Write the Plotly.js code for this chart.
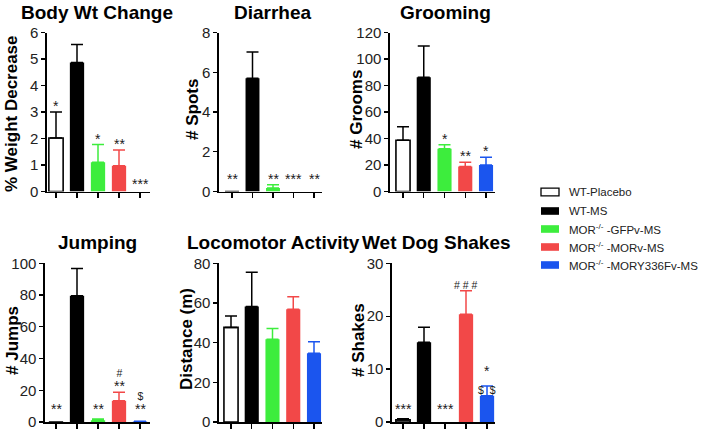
<!DOCTYPE html>
<html>
<head>
<meta charset="utf-8">
<script src="https://cdn.plot.ly/plotly-3.0.1.min.js"></script>
<style>html,body{margin:0;padding:0;background:#fff;}#chart{width:709px;height:430px;}</style>
</head>
<body>
<div id="chart"></div>
<script>
// ---------- DATA ----------
const groups = ["WT-Placebo", "WT-MS", "MOR<sup>-/-</sup> -GFPv-MS", "MOR<sup>-/-</sup> -MORv-MS", "MOR<sup>-/-</sup> -MORY336Fv-MS"];

const panelTitles = ["Body Wt Change", "Diarrhea", "Grooming", "Jumping", "Locomotor Activity", "Wet Dog Shakes"];
const yTitles = ["% Weight Decrease", "# Spots", "# Grooms", "# Jumps", "Distance (m)", "# Shakes"];
const yMax = [6, 8, 120, 100, 80, 30];
const yDtick = [1, 2, 20, 20, 20, 10];

const bodyWtMean = [2.02, 4.87, 1.10, 0.97, 0];
const bodyWtSem  = [0.98, 0.68, 0.67, 0.60, 0];
const bodyWtSig  = ["*", "", "*", "**", "***"];

const diarrheaMean = [0, 5.70, 0.17, 0, 0];
const diarrheaSem  = [0, 1.32, 0.17, 0, 0];
const diarrheaSig  = ["**", "", "**", "***", "**"];

const groomingMean = [38.7, 86.3, 32.2, 18.8, 20.0];
const groomingSem  = [10.2, 23.5, 3.1, 3.2, 5.8];
const groomingSig  = ["", "", "*", "**", "*"];

const jumpingMean = [0, 79.6, 1.1, 13.4, 0.3];
const jumpingSem  = [0, 17.2, 0.8, 5.3, 0.2];
const jumpingSig  = ["**", "", "**", "#|**", "$|**"];

const locomotorMean = [47.7, 58.2, 41.7, 56.8, 34.6];
const locomotorSem  = [5.7, 17.3, 5.4, 6.4, 5.9];
const locomotorSig  = ["", "", "", "", ""];

const wetDogMean = [0.4, 15.06, 0, 20.35, 4.98];
const wetDogSem  = [0.2, 2.84, 0, 4.45, 1.82];
const wetDogSig  = ["***", "", "***", "# # #", "*|$&nbsp;&nbsp;$"];

// ---------- STYLE / LAYOUT ----------
const fills  = ["#ffffff", "#000000", "#3ded3d", "#f24848", "#1b55ee"];
const strokes = ["#000000", "#000000", "#3ded3d", "#f24848", "#1b55ee"];
const FONT = "Liberation Sans, Arial, Helvetica, sans-serif";
const W = 709, H = 430;
const STAR = 14, HASH = 10.5;

const means = [bodyWtMean, diarrheaMean, groomingMean, jumpingMean, locomotorMean, wetDogMean];
const sems  = [bodyWtSem, diarrheaSem, groomingSem, jumpingSem, locomotorSem, wetDogSem];
const sigs  = [bodyWtSig, diarrheaSig, groomingSig, jumpingSig, locomotorSig, wetDogSig];

// pixel geometry of each panel: axis start, first tick, last tick, axis end, y of zero, y of max
const geo = [
  {ax: 47,  t0: 56,  t4: 140, end: 150, y0: 191.5, y1: 32.5},
  {ax: 219, t0: 232, t4: 314, end: 322, y0: 191.5, y1: 32.5},
  {ax: 390, t0: 403, t4: 486, end: 495, y0: 191.5, y1: 32.5},
  {ax: 45,  t0: 56,  t4: 140, end: 150, y0: 422,   y1: 263.3},
  {ax: 219, t0: 231, t4: 314, end: 322, y0: 422,   y1: 263.3},
  {ax: 392, t0: 403, t4: 487, end: 495, y0: 422,   y1: 263.3}
];
const titlePos = [[97, 12], [273, 12], [445, 12], [97, 242], [273, 242], [436, 242]];
const yTitlePos = [[12, 114], [192, 110], [356, 110], [12, 341], [186, 339], [358, 340]];
const bottomNudge = {"0-4": -5, "5-4": -8};

function sigText(lab) {
  // stacked labels: upper|lower, each line sized by its glyph type
  const parts = lab.split("|");
  const isHash = t => /[#$]/.test(t);
  if (parts.length === 1) return {text: parts[0], size: isHash(parts[0]) ? HASH : STAR};
  const base = isHash(parts[0]) ? HASH : STAR;
  const lines = parts.map(t => {
    const sz = isHash(t) ? HASH : STAR;
    return sz === base ? t : "<span style='font-size:" + sz + "px'>" + t + "</span>";
  });
  return {text: lines.join("<br>"), size: base};
}

const traces = [];
const layout = {
  width: W, height: H,
  margin: {l: 0, r: 0, t: 0, b: 0},
  paper_bgcolor: "#fff", plot_bgcolor: "rgba(0,0,0,0)",
  showlegend: false,
  barmode: "overlay",
  font: {family: FONT, color: "#000"},
  annotations: [], shapes: []
};

for (let p = 0; p < 6; p++) {
  const g = geo[p];
  const sp = (g.t4 - g.t0) / 4;
  const r0 = -(g.t0 - g.ax) / sp;
  const r1 = 4 + (g.end - g.t4) / sp;
  const n = p + 1;
  const xa = "xaxis" + (n === 1 ? "" : n), ya = "yaxis" + (n === 1 ? "" : n);
  const xr = "x" + (n === 1 ? "" : n), yr = "y" + (n === 1 ? "" : n);
  layout[xa] = {
    domain: [g.ax / W, g.end / W], range: [r0, r1], anchor: yr,
    showline: true, linecolor: "#000", linewidth: 1.6,
    ticks: "outside", ticklen: 5, tickwidth: 1.4, tickcolor: "#000",
    tickvals: [0, 1, 2, 3, 4], showticklabels: false,
    showgrid: false, zeroline: false, fixedrange: true
  };
  layout[ya] = {
    domain: [1 - g.y0 / H, 1 - g.y1 / H], range: [0, yMax[p]], anchor: xr,
    showline: true, linecolor: "#000", linewidth: 1.6,
    ticks: "outside", ticklen: 4, tickwidth: 1.4, tickcolor: "#000",
    dtick: yDtick[p], tick0: 0, ticklabeloverflow: "allow",
    tickfont: {family: FONT, size: 15, color: "#222"},
    showgrid: false, zeroline: false, fixedrange: true
  };
  for (let i = 0; i < 5; i++) {
    const m = means[p][i], s = sems[p][i];
    traces.push({
      type: "bar", x: [i], y: [m], xaxis: xr, yaxis: yr,
      width: 0.68, name: groups[i],
      marker: {color: fills[i], line: {color: strokes[i], width: i === 0 ? 1.6 : 0}},
      error_y: {type: "data", symmetric: false, array: [s], arrayminus: [0],
                visible: s > 0, color: strokes[i], thickness: 1.5, width: 6},
      hoverinfo: "skip"
    });
    const lab = sigs[p][i];
    if (lab) {
      const top = m + s;
      const small = top < yMax[p] * 0.05;
      const yv = small ? 0 : top;
      let ys = small ? 3 : -4;
      if (bottomNudge[p + "-" + i] !== undefined) ys += bottomNudge[p + "-" + i];
      const st = sigText(lab);
      const single = !/[|]/.test(lab);
      if (single && /[#$]/.test(lab)) ys += 2;
      layout.annotations.push({
        xref: xr, yref: yr, x: i, y: yv, yshift: ys,
        text: st.text, showarrow: false, xanchor: "center", yanchor: "bottom",
        font: {family: FONT, size: st.size, color: "#1a1a1a"}
      });
    }
  }
  layout.annotations.push({
    xref: "paper", yref: "paper", x: titlePos[p][0] / W, y: 1 - titlePos[p][1] / H,
    text: "<b>" + panelTitles[p] + "</b>", showarrow: false, xanchor: "center", yanchor: "middle",
    font: {family: FONT, size: 19, color: "#000"}
  });
  layout.annotations.push({
    xref: "paper", yref: "paper", x: yTitlePos[p][0] / W, y: 1 - yTitlePos[p][1] / H,
    text: "<b>" + yTitles[p] + "</b>", showarrow: false, textangle: -90,
    xanchor: "center", yanchor: "middle",
    font: {family: FONT, size: 17, color: "#000"}
  });
}

// legend
const legY = [192, 211, 229, 247, 265];
for (let i = 0; i < 5; i++) {
  layout.shapes.push({
    type: "rect", xref: "paper", yref: "paper",
    x0: 541 / W, x1: 559 / W, y0: 1 - (legY[i] + 3.8) / H, y1: 1 - (legY[i] - 3.8) / H,
    fillcolor: fills[i], line: {color: strokes[i], width: i === 0 ? 1.3 : 0}
  });
  layout.annotations.push({
    xref: "paper", yref: "paper", x: 567 / W, y: 1 - legY[i] / H,
    text: groups[i], showarrow: false, xanchor: "left", yanchor: "middle",
    font: {family: FONT, size: 11.5, color: "#222"}
  });
}

Plotly.newPlot("chart", traces, layout, {displayModeBar: false, staticPlot: true});
</script>
</body>
</html>
